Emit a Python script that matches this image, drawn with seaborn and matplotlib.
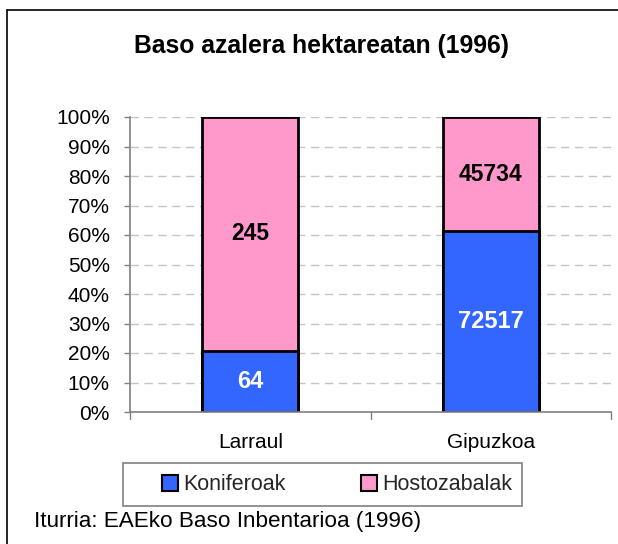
import matplotlib
matplotlib.use("Agg")
import matplotlib.pyplot as plt
import matplotlib.patches as mpatches
from matplotlib.lines import Line2D
import seaborn as sns
import pandas as pd

# Forest area in hectares, 1996
areas = ["Larraul", "Gipuzkoa"]
koniferoak = [64, 72517]
hostozabalak = [245, 45734]
series_names = ["Koniferoak", "Hostozabalak"]
ytick_labels = ["0%", "10%", "20%", "30%", "40%", "50%", "60%", "70%", "80%", "90%", "100%"]

BLUE = "#3366FF"
PINK = "#FF99CC"

sns.set_theme(style="white")
plt.rcParams["font.family"] = ["Liberation Sans", "DejaVu Sans"]

totals = [k + h for k, h in zip(koniferoak, hostozabalak)]
df = pd.DataFrame({
    "area": areas,
    "kon_pct": [100 * k / t for k, t in zip(koniferoak, totals)],
    "total_pct": [100 * (k + h) / t for k, h, t in zip(koniferoak, hostozabalak, totals)],
})

W, H = 618, 544
fig = plt.figure(figsize=(W / 100, H / 100), dpi=100)
fig.patch.set_facecolor("white")

# outer chart frame (top and left edges)
fig.add_artist(Line2D([7 / W, 7 / W], [0, 1 - 10 / H], color="black", lw=1.2,
                      transform=fig.transFigure))
fig.add_artist(Line2D([7 / W, 1], [1 - 10 / H, 1 - 10 / H], color="black", lw=1.2,
                      transform=fig.transFigure))

ax = fig.add_axes([130 / W, 1 - 412 / H, (611 - 130) / W, (412 - 117) / H])

# stacked bars: full-height Hostozabalak, Koniferoak on the bottom
sns.barplot(data=df, x="area", y="total_pct", color=PINK, width=0.4, ax=ax,
            edgecolor="black", linewidth=2, saturation=1, zorder=3)
sns.barplot(data=df, x="area", y="kon_pct", color=BLUE, width=0.4, ax=ax,
            edgecolor="black", linewidth=2, saturation=1, zorder=4)

ax.set_xlim(-0.5, len(areas) - 0.5)
ax.set_ylim(0, 100)
ax.set_yticks(range(0, 101, 10))
ax.set_yticklabels(ytick_labels, fontsize=15, color="black")
ax.set_xticks(range(len(areas)))
ax.set_xticklabels(areas, fontsize=15, color="black")
ax.set_xlabel("")
ax.set_ylabel("")
ax.tick_params(axis="y", length=4, width=1, color="#808080", pad=10.5, left=True)
ax.tick_params(axis="x", length=0, pad=15)

# category separator ticks on the x axis
for xb in [-0.5, 0.5, 1.5]:
    ax.plot([xb, xb], [0, -2.3], color="#808080", lw=1, clip_on=False, zorder=5)

for y in range(10, 101, 10):
    ax.axhline(y, color="#C4C4C4", lw=1, ls=(0, (6, 4)), zorder=1)

for side in ["top", "right"]:
    ax.spines[side].set_visible(False)
for side in ["left", "bottom"]:
    ax.spines[side].set_color("#808080")
    ax.spines[side].set_linewidth(1.2)
    ax.spines[side].set_zorder(6)

# value labels
for i in range(len(areas)):
    kp = df["kon_pct"][i]
    ax.text(i, kp / 2, f"{koniferoak[i]}", ha="center", va="center",
            color="white", fontsize=17, fontweight="bold", zorder=7)
    ax.text(i, (kp + 100) / 2, f"{hostozabalak[i]}", ha="center", va="center",
            color="black", fontsize=16.5, fontweight="bold", zorder=7)

fig.text(321 / W, 1 - 46 / H, "Baso azalera hektareatan (1996)", ha="center",
         va="center", fontsize=17.8, fontweight="bold", color="black")

# legend box
fig.add_artist(mpatches.Rectangle((123 / W, 1 - 506 / H), (522 - 123) / W, 43 / H,
                                  transform=fig.transFigure, facecolor="none",
                                  edgecolor="#808080", lw=1.2))
handles = [mpatches.Patch(facecolor=BLUE, edgecolor="black", lw=1.5),
           mpatches.Patch(facecolor=PINK, edgecolor="black", lw=1.5)]
leg = fig.legend(handles, series_names, loc="center",
                 bbox_to_anchor=(337 / W, 1 - 485 / H),
                 ncol=2, fontsize=15.5, frameon=False,
                 handlelength=0.75, handleheight=0.75, handletextpad=0.25,
                 borderaxespad=0, columnspacing=3.5, borderpad=0)

fig.text(34 / W, 1 - 522 / H, "Iturria: EAEko Baso Inbentarioa (1996)",
         ha="left", va="center", fontsize=16.2, color="black")

fig.savefig("out.png", dpi=100, facecolor="white")
